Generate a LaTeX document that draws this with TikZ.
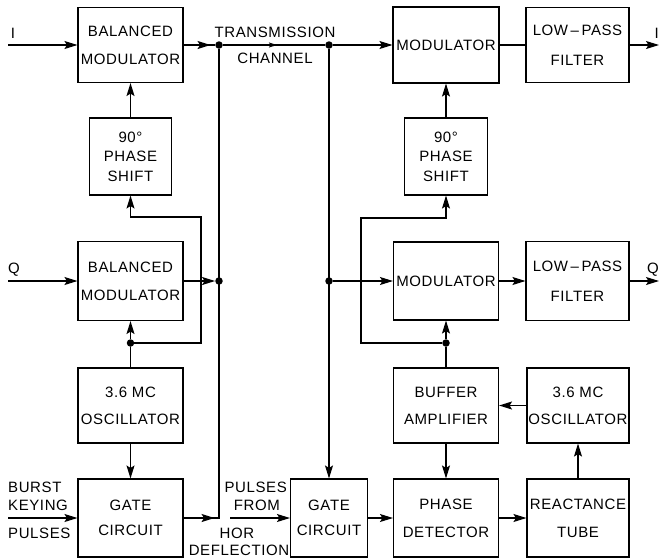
\documentclass[tikz,border=0pt]{standalone}
\usepackage{fontspec}
\setmainfont{Liberation Sans}[LetterSpace=4.0]
\usetikzlibrary{arrows.meta,decorations.markings}
\begin{document}
\begin{tikzpicture}[x=1pt,y=-1pt,
  ln/.style={line width=1.1pt},
  arr/.style={ln,-{Stealth[length=13pt,width=8pt,inset=2.5pt]}},
  marrow/.style={postaction={decorate,decoration={markings,
     mark=at position #1 with {\arrow{Stealth[length=13pt,width=8pt,inset=2.5pt]}}}}},
  smarrow/.style={postaction={decorate,decoration={markings,
     mark=at position #1 with {\arrow{Stealth[length=8pt,width=5pt,inset=1.5pt]}}}}},
  blk/.style={draw,line width=1.1pt,align=center,inner sep=0pt,
     font=\fontsize{15}{28}\selectfont},
  psblk/.style={blk,font=\fontsize{15}{19.5}\selectfont},
  lbl/.style={inner sep=0pt,font=\fontsize{15}{17}\selectfont},
  dot/.style={circle,fill,inner sep=0pt,minimum size=7.5pt}]
\useasboundingbox (0,0) rectangle (659,558);

% blocks
\node[blk,minimum width=105pt,minimum height=75pt] (BM1) at (130.5,45) {BALANCED\\MODULATOR};
\node[psblk,minimum width=82pt,minimum height=77pt] (PS1) at (130.5,156.5) {90°\\PHASE\\SHIFT};
\node[blk,minimum width=105pt,minimum height=79pt] (BM2) at (130.5,281) {BALANCED\\MODULATOR};
\node[blk,font=\fontsize{15}{27}\selectfont,minimum width=105pt,minimum height=75pt] (OSC1) at (130.5,405.5) {3.6 MC\\OSCILLATOR};
\node[blk,font=\fontsize{15}{25}\selectfont,minimum width=105pt,minimum height=78pt] (GATE1) at (130.5,518) {GATE\\CIRCUIT};
\node[blk,font=\fontsize{15}{25}\selectfont,minimum width=77pt,minimum height=78pt] (GATE2) at (329,518) {GATE\\CIRCUIT};
\node[blk,minimum width=106pt,minimum height=76pt] (MOD1) at (446,45) {MODULATOR};
\node[blk,font=\fontsize{15}{30}\selectfont,minimum width=103pt,minimum height=75pt] (LPF1) at (577.5,45) {LOW\,–\,PASS\\FILTER};
\node[psblk,minimum width=83pt,minimum height=77pt] (PS2) at (446,156.5) {90°\\PHASE\\SHIFT};
\node[blk,minimum width=105pt,minimum height=78pt] (MOD2) at (446,281) {MODULATOR};
\node[blk,font=\fontsize{15}{30}\selectfont,minimum width=103pt,minimum height=79pt] (LPF2) at (577.5,281) {LOW\,–\,PASS\\FILTER};
\node[blk,font=\fontsize{15}{27}\selectfont,minimum width=105pt,minimum height=75pt] (BUF) at (446,405.5) {BUFFER\\AMPLIFIER};
\node[blk,font=\fontsize{15}{27}\selectfont,minimum width=102pt,minimum height=75pt] (OSC2) at (578,405.5) {3.6 MC\\OSCILLATOR};
\node[blk,minimum width=105pt,minimum height=78pt] (PD) at (446,518) {PHASE\\DETECTOR};
\node[blk,minimum width=102pt,minimum height=78pt] (RT) at (578,518) {REACTANCE\\TUBE};

% junction dots
\node[dot] (T1) at (219,45) {};
\node[dot] (T2) at (329,45) {};
\node[dot] (T3) at (219,281) {};
\node[dot] (T4) at (329,281) {};
\node[dot] (D1) at (130.5,343) {};
\node[dot] (D2) at (446,343) {};

% free ends and bends
\coordinate (Iin) at (8,45);
\coordinate (Qin) at (8,281);
\coordinate (Bin) at (8,518);
\coordinate (Hin) at (230,518);
\coordinate (Iout) at (659,45);
\coordinate (Qout) at (659,281);
\coordinate (G1) at (219,518);
\coordinate (L1) at (201,343);
\coordinate (L2) at (201,217);
\coordinate (R1) at (361,343);
\coordinate (R2) at (361,218);

% labels
\node[lbl] (lI) at (13,33) {I};
\node[lbl] (lQ) at (14,270) {Q};
\node[lbl,anchor=east] (lIo) at (659,33) {I};
\node[lbl,anchor=east] (lQo) at (659,270) {Q};
\node[lbl] (tr1) at (275,32) {TRANSMISSION};
\node[lbl] (tr2) at (275,58) {CHANNEL};
\node[lbl,anchor=west] (bk1) at (8,487) {BURST};
\node[lbl,anchor=west] (bk2) at (8,505) {KEYING};
\node[lbl,anchor=west] (bk3) at (8,533) {PULSES};
\node[lbl,anchor=east] (hp1) at (287,487) {PULSES};
\node[lbl,anchor=east] (hp2) at (280,505) {FROM};
\node[lbl] (hp3) at (237,533) {HOR};
\node[lbl] (hp4) at (239,550) {DEFLECTION};

% connectors, left half
\draw[arr] (Iin) -- (BM1.west);
\draw[ln,marrow=27pt] (BM1.east) -- (T1);
\draw[ln,smarrow=54pt] (T1) -- (T2);
\draw[arr] (T2) -- (MOD1.west);
\draw[arr] (PS1.north) -- (BM1.south);
\draw[arr] (D1) -- (L1) -- (L2) -- (L2 -| PS1.south) -- (PS1.south);
\draw[arr] (D1) -- (BM2.south);
\draw[ln] (OSC1.north) -- (D1);
\draw[arr] (Qin) -- (BM2.west);
\draw[arr] (BM2.east) -- (T3);
\draw[arr] (OSC1.south) -- (GATE1.north);
\draw[arr] (Bin) -- (GATE1.west);
\draw[ln,marrow=31pt] (GATE1.east) -- (G1) -- (T1);
\draw[arr] (T2) -- (GATE2.north);
\draw[arr] (Hin) -- (GATE2.west);

% connectors, right half
\draw[ln] (MOD1.east) -- (LPF1.west);
\draw[arr] (LPF1.east) -- (Iout);
\draw[arr] (PS2.north) -- (MOD1.south);
\draw[arr] (D2) -- (R1) -- (R2) -- (R2 -| PS2.south) -- (PS2.south);
\draw[arr] (T4) -- (MOD2.west);
\draw[arr] (D2) -- (MOD2.south);
\draw[ln] (BUF.north) -- (D2);
\draw[arr] (MOD2.east) -- (LPF2.west);
\draw[arr] (LPF2.east) -- (Qout);
\draw[arr] (OSC2.west) -- (BUF.east);
\draw[arr] (BUF.south) -- (PD.north);
\draw[arr] (GATE2.east) -- (PD.west);
\draw[arr] (PD.east) -- (RT.west);
\draw[arr] (RT.north) -- (OSC2.south);
\end{tikzpicture}
\end{document}
